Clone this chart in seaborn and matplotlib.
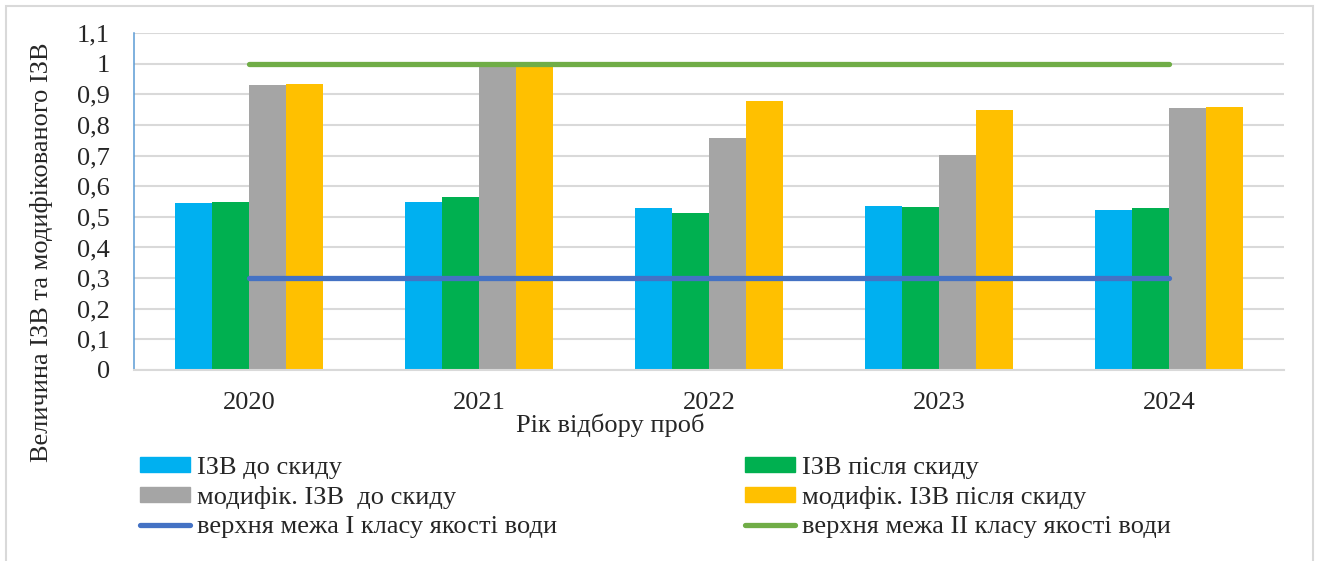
import numpy as np
import pandas as pd
import seaborn as sns
import matplotlib.pyplot as plt
from matplotlib.patches import Patch, Rectangle
from matplotlib.lines import Line2D

years = ['2020', '2021', '2022', '2023', '2024']
izv_before = [0.544, 0.549, 0.528, 0.535, 0.521]
izv_after = [0.549, 0.566, 0.512, 0.532, 0.528]
mod_before = [0.930, 0.992, 0.757, 0.703, 0.855]
mod_after = [0.934, 0.992, 0.877, 0.849, 0.858]
limit_class1 = [0.3, 0.3, 0.3, 0.3, 0.3]
limit_class2 = [1.0, 1.0, 1.0, 1.0, 1.0]

series_names = ['ІЗВ до скиду', 'ІЗВ після скиду',
                'модифік. ІЗВ  до скиду', 'модифік. ІЗВ після скиду']
line_names = ['верхня межа I класу якості води', 'верхня межа II класу якості води']
bar_colors = ['#00B0F0', '#00B050', '#A5A5A5', '#FFC000']
line_colors = ['#4472C4', '#70AD47']

ytick_vals = [0, 0.1, 0.2, 0.3, 0.4, 0.5, 0.6, 0.7, 0.8, 0.9, 1.0, 1.1]
ytick_labels = ['0', '0,1', '0,2', '0,3', '0,4', '0,5', '0,6', '0,7', '0,8', '0,9', '1', '1,1']

df = pd.DataFrame({
    'year': years * 4,
    'value': izv_before + izv_after + mod_before + mod_after,
    'series': [s for s in series_names for _ in years],
})

sns.set_style('white')
plt.rcParams['font.family'] = ['Liberation Serif', 'DejaVu Serif']

W, H = 1317, 561
fig = plt.figure(figsize=(W / 100, H / 100), dpi=100)
ax = fig.add_axes([134 / W, 1 - 370 / H, (1284 - 134) / W, (370 - 33) / H])

sns.barplot(data=df, x='year', y='value', hue='series', hue_order=series_names,
            palette=bar_colors, saturation=1, width=0.643, gap=0, linewidth=0,
            legend=False, ax=ax, zorder=2)

xpos = np.arange(len(years))
for vals, col in zip([limit_class1, limit_class2], line_colors):
    ax.plot(xpos, vals, color=col, lw=3.8, solid_capstyle='round', zorder=3)

ax.set_xlim(-0.5, 4.5)
ax.set_ylim(0, 1.1)
ax.set_yticks(ytick_vals)
ax.set_yticklabels(ytick_labels)
ax.yaxis.grid(True, color='#D9D9D9', lw=1.5)
ax.set_axisbelow(True)
ax.tick_params(axis='y', direction='inout', length=11, width=1.1,
               color='#5B9BD5', labelsize=19, pad=12)
ax.tick_params(axis='x', length=0, labelsize=19, pad=16)
for s in ['top', 'right']:
    ax.spines[s].set_visible(False)
ax.spines['left'].set_color('#5B9BD5')
ax.spines['left'].set_linewidth(1.1)
ax.spines['bottom'].set_color('#D9D9D9')
ax.spines['bottom'].set_linewidth(1.5)
ax.set_xlabel('')
ax.set_ylabel('')

fig.text(610 / W, 1 - 425 / H, 'Рік відбору проб', ha='center', va='center', fontsize=19)
fig.text(42 / W, 1 - 252 / H, 'Величина ІЗВ та модифікованого ІЗВ', rotation=90,
         ha='center', va='center', fontsize=19)

left_handles = [Patch(color=bar_colors[0]), Patch(color=bar_colors[2]),
                Line2D([], [], color=line_colors[0], lw=3.8, solid_capstyle='round')]
left_labels = [series_names[0], series_names[2], line_names[0]]
right_handles = [Patch(color=bar_colors[1]), Patch(color=bar_colors[3]),
                 Line2D([], [], color=line_colors[1], lw=3.8, solid_capstyle='round')]
right_labels = [series_names[1], series_names[3], line_names[1]]

for handles, labels, x0 in [(left_handles, left_labels, 140), (right_handles, right_labels, 745)]:
    fig.legend(handles, labels, loc='upper left', bbox_to_anchor=(x0 / W, 1 - 457 / H),
               frameon=False, fontsize=19, handlelength=1.9, handleheight=0.5,
               handletextpad=0.27, labelspacing=0.27, borderpad=0, borderaxespad=0)

fig.patches.append(Rectangle((6 / W, -0.05), (1313 - 6) / W, 1.05 - 6 / H,
                             transform=fig.transFigure, fill=False,
                             edgecolor='#D9D9D9', lw=1.5))

fig.savefig('out.png', dpi=100)
